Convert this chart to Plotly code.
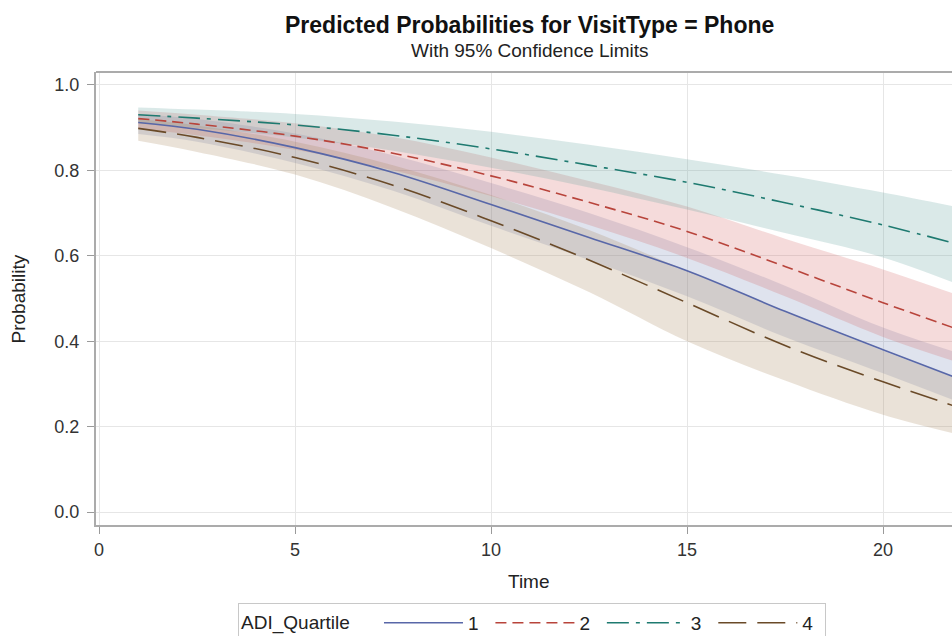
import plotly.graph_objects as go

# ---- data ----
time = [1, 2.5, 5, 7.5, 10, 12.5, 15, 17.5, 20, 22]
quartiles = ["1", "2", "3", "4"]

q1_pred  = [0.912, 0.896, 0.853, 0.795, 0.720, 0.643, 0.565, 0.470, 0.380, 0.310]
q1_upper = [0.932, 0.920, 0.886, 0.835, 0.770, 0.700, 0.620, 0.530, 0.432, 0.370]
q1_lower = [0.885, 0.867, 0.817, 0.752, 0.670, 0.590, 0.505, 0.410, 0.325, 0.255]

q2_pred  = [0.921, 0.908, 0.880, 0.840, 0.787, 0.725, 0.657, 0.575, 0.490, 0.425]
q2_upper = [0.940, 0.930, 0.910, 0.878, 0.830, 0.775, 0.715, 0.640, 0.568, 0.505]
q2_lower = [0.898, 0.882, 0.848, 0.800, 0.740, 0.672, 0.595, 0.505, 0.410, 0.348]

q3_pred  = [0.930, 0.922, 0.906, 0.882, 0.850, 0.812, 0.772, 0.724, 0.672, 0.625]
q3_upper = [0.947, 0.942, 0.932, 0.914, 0.890, 0.860, 0.826, 0.789, 0.748, 0.712]
q3_lower = [0.910, 0.899, 0.877, 0.846, 0.806, 0.760, 0.708, 0.653, 0.596, 0.530]

q4_pred  = [0.898, 0.877, 0.830, 0.765, 0.682, 0.590, 0.490, 0.390, 0.305, 0.243]
q4_upper = [0.920, 0.905, 0.867, 0.812, 0.742, 0.660, 0.565, 0.470, 0.378, 0.310]
q4_lower = [0.869, 0.843, 0.790, 0.712, 0.618, 0.515, 0.400, 0.308, 0.228, 0.180]

x_ticks = [0, 5, 10, 15, 20]
y_ticks = [0.0, 0.2, 0.4, 0.6, 0.8, 1.0]

# ---- styles ----
preds = [q1_pred, q2_pred, q3_pred, q4_pred]
uppers = [q1_upper, q2_upper, q3_upper, q4_upper]
lowers = [q1_lower, q2_lower, q3_lower, q4_lower]
line_colors = ["#5867A8", "#B8443B", "#1E7A70", "#6A4A28"]
fill_colors = ["rgba(111,126,179,0.22)", "rgba(208,91,91,0.22)",
               "rgba(102,165,160,0.24)", "rgba(169,134,91,0.24)"]
dashes = ["solid", "11px,6px", "22px,7px,4px,7px", "28px,11px"]

FONT = "Liberation Sans, Arial, sans-serif"

fig = go.Figure()

for i in range(4):
    fig.add_trace(go.Scatter(x=time, y=lowers[i], mode="lines",
                             line=dict(width=0, shape="spline"),
                             showlegend=False, hoverinfo="skip"))
    fig.add_trace(go.Scatter(x=time, y=uppers[i], mode="lines",
                             line=dict(width=0, shape="spline"),
                             fill="tonexty", fillcolor=fill_colors[i],
                             showlegend=False, hoverinfo="skip"))

for i in range(4):
    fig.add_trace(go.Scatter(x=time, y=preds[i], mode="lines",
                             name=quartiles[i] + " \u200a",
                             line=dict(color=line_colors[i], width=1.6,
                                       dash=dashes[i], shape="spline")))

fig.update_layout(
    width=952, height=636,
    margin=dict(l=96, r=0, t=72, b=111, autoexpand=False),
    paper_bgcolor="white", plot_bgcolor="white",
    font=dict(family=FONT, size=18, color="#333333"),
    showlegend=True,
    legend=dict(
        title=dict(text="ADI_Quartile    ", font=dict(size=19, color="#222")),
        orientation="h", x=0.166, xanchor="left", y=-0.172, yanchor="top",
        traceorder="normal",
        bordercolor="#C8C8C8", borderwidth=1,
        font=dict(size=19, color="#222"),
        itemwidth=79,
    ),
    xaxis=dict(
        range=[-0.077, 21.76], tickvals=x_ticks, ticktext=[str(v) for v in x_ticks],
        showgrid=True, gridcolor="#E6E6E6", gridwidth=1, zeroline=False,
        showline=True, linecolor="#ABABAB", linewidth=2,
        ticks="outside", ticklen=7, tickcolor="#9A9A9A",
        ticklabelstandoff=0,
        tickfont=dict(size=18, color="#333"),
    ),
    yaxis=dict(
        range=[-0.030, 1.030], tickvals=y_ticks, tickformat=".1f",
        showgrid=True, gridcolor="#E6E6E6", gridwidth=1, zeroline=False,
        showline=True, linecolor="#ABABAB", linewidth=2,
        ticks="outside", ticklen=7, tickcolor="#9A9A9A",
        ticklabelstandoff=4,
        tickfont=dict(size=18, color="#333"),
    ),
    shapes=[dict(type="line", xref="paper", yref="paper", x0=0, x1=1, y0=1, y1=1,
                 line=dict(color="#ABABAB", width=2))],
    annotations=[
        dict(text="<b>Predicted Probabilities for VisitType = Phone</b>",
             xref="paper", yref="paper", x=0.507, y=1.0, yshift=47,
             xanchor="center", yanchor="middle", showarrow=False,
             font=dict(size=23, color="#111")),
        dict(text="With 95% Confidence Limits",
             xref="paper", yref="paper", x=0.507, y=1.0, yshift=22,
             xanchor="center", yanchor="middle", showarrow=False,
             font=dict(size=19, color="#222")),
        dict(text="Time", xref="paper", yref="paper", x=0.506, y=0, yshift=-56,
             xanchor="center", yanchor="middle", showarrow=False,
             font=dict(size=19, color="#222")),
        dict(text="Probability", xref="paper", yref="paper", x=-0.09, y=0.5,
             xanchor="center", yanchor="middle", textangle=-90, showarrow=False,
             font=dict(size=19, color="#222")),
    ],
)

fig.write_html("out.html")
